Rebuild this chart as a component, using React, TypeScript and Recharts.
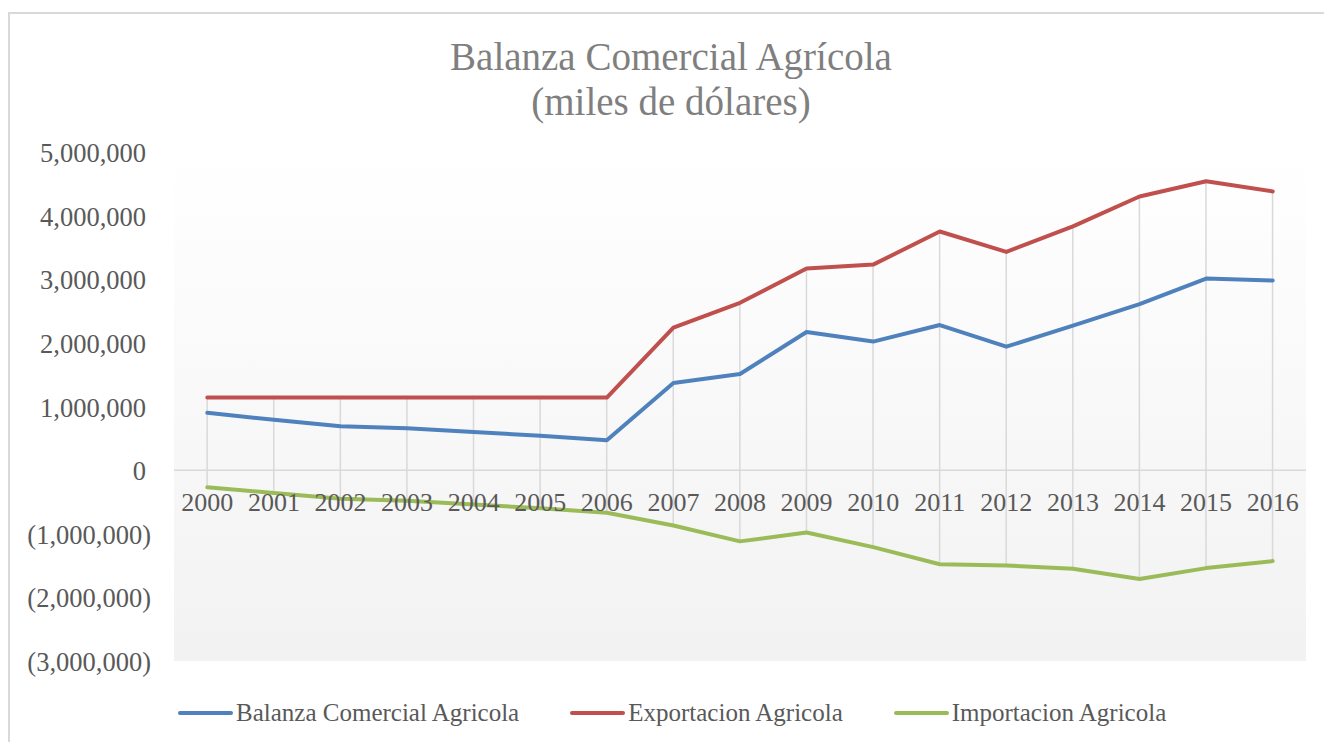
import React from "react";
import {
  ComposedChart,
  Line,
  Bar,
  XAxis,
  YAxis,
  CartesianGrid,
  ReferenceLine,
  LabelList,
} from "recharts";

const years = [
  "2000", "2001", "2002", "2003", "2004", "2005", "2006", "2007", "2008",
  "2009", "2010", "2011", "2012", "2013", "2014", "2015", "2016",
];
const balanza = [
  900000, 790000, 690000, 660000, 600000, 540000, 470000, 1370000, 1510000,
  2170000, 2020000, 2280000, 1940000, 2270000, 2610000, 3010000, 2980000,
];
const exportacion = [
  1140000, 1140000, 1140000, 1140000, 1140000, 1140000, 1140000, 2240000,
  2630000, 3170000, 3230000, 3750000, 3430000, 3830000, 4300000, 4540000,
  4380000,
];
const importacion = [
  -270000, -360000, -450000, -480000, -540000, -600000, -670000, -870000,
  -1120000, -980000, -1210000, -1480000, -1500000, -1550000, -1710000,
  -1540000, -1430000,
];
const yTicks = [
  -3000000, -2000000, -1000000, 0, 1000000, 2000000, 3000000, 4000000, 5000000,
];

const series = [
  { key: "balanza", name: "Balanza Comercial Agricola", color: "#4f81bd" },
  { key: "exportacion", name: "Exportacion Agricola", color: "#c0504d" },
  { key: "importacion", name: "Importacion Agricola", color: "#9bbb59" },
];

const data = years.map((year, i) => {
  const vals = [balanza[i], exportacion[i], importacion[i]];
  return {
    year,
    balanza: balanza[i],
    exportacion: exportacion[i],
    importacion: importacion[i],
    range: [Math.min(...vals), Math.max(...vals)],
    zero: 0,
  };
});

const FONT = "'Liberation Serif', serif";

const fmt = (v: number) =>
  v < 0
    ? `(${Math.abs(v).toLocaleString("en-US")})`
    : v.toLocaleString("en-US");

const YTick = (props: any) => {
  const { x, y, payload } = props;
  const neg = payload.value < 0;
  return (
    <text
      x={neg ? x + 5 : x}
      y={y + 10}
      textAnchor="end"
      fontFamily={FONT}
      fontSize={26.5}
      fill="#595959"
    >
      {fmt(payload.value)}
    </text>
  );
};

const YearLabel = (props: any) => {
  const { x, y, value } = props;
  if (x == null || y == null) return null;
  return (
    <text
      x={x}
      y={y + 41}
      textAnchor="middle"
      fontFamily={FONT}
      fontSize={26}
      fill="#595959"
    >
      {value}
    </text>
  );
};

// excel style high-low line: from the top series point to the bottom one
const HighLow = (props: any) => {
  const { x, y, width, height } = props;
  if (x == null || y == null) return null;
  const cx = x + width / 2;
  return (
    <line
      x1={cx}
      x2={cx}
      y1={y}
      y2={y + height}
      stroke="#d9d9d9"
      strokeWidth={1.5}
    />
  );
};

export default function App() {
  return (
    <div
      style={{
        position: "fixed",
        left: 0,
        top: 0,
        width: 1324,
        height: 742,
        overflow: "hidden",
        background: "#fff",
        fontFamily: FONT,
      }}
    >
      {/* chart frame, only top and left edges are inside the picture */}
      <div
        style={{
          position: "absolute",
          left: 8,
          top: 12,
          width: 1316,
          height: 2,
          background: "#d9d9d9",
        }}
      />
      <div
        style={{
          position: "absolute",
          left: 8,
          top: 12,
          width: 2,
          height: 730,
          background: "#d9d9d9",
        }}
      />

      <div
        style={{
          position: "absolute",
          left: 10,
          top: 34,
          width: 1322,
          textAlign: "center",
          fontSize: 39,
          lineHeight: "45px",
          color: "#7f7f7f",
        }}
      >
        Balanza Comercial Agrícola
        <br />
        (miles de dólares)
      </div>

      <div style={{ position: "absolute", left: 10, top: 14 }}>
        <ComposedChart
          width={1314}
          height={724}
          data={data}
          margin={{ top: 138, right: 18, bottom: 77, left: 0 }}
        >
          <defs>
            <linearGradient id="plotBg" x1="0" y1="0" x2="0" y2="1">
              <stop offset="0%" stopColor="#ffffff" />
              <stop offset="100%" stopColor="#f2f2f2" />
            </linearGradient>
          </defs>
          <CartesianGrid
            horizontal={false}
            vertical={false}
            fill="url(#plotBg)"
            stroke="none"
          />
          <XAxis dataKey="year" hide />
          <YAxis
            domain={[-3000000, 5000000]}
            ticks={yTicks}
            interval={0}
            axisLine={false}
            tickLine={false}
            tickSize={0}
            tickMargin={28}
            width={164}
            tick={<YTick />}
          />
          <Bar
            dataKey="range"
            shape={<HighLow />}
            isAnimationActive={false}
            legendType="none"
          />
          <ReferenceLine y={0} stroke="#d9d9d9" strokeWidth={1.5} />
          <Line
            dataKey="zero"
            stroke="none"
            dot={false}
            activeDot={false}
            isAnimationActive={false}
            legendType="none"
          >
            <LabelList dataKey="year" content={<YearLabel />} />
          </Line>
          {series.map((s) => (
            <Line
              key={s.key}
              dataKey={s.key}
              name={s.name}
              stroke={s.color}
              strokeWidth={4}
              strokeLinecap="round"
              strokeLinejoin="round"
              dot={false}
              activeDot={false}
              type="linear"
              isAnimationActive={false}
            />
          ))}
        </ComposedChart>
      </div>

      <div
        style={{
          position: "absolute",
          left: 178,
          top: 698,
          height: 30,
          display: "flex",
          alignItems: "center",
          gap: 51,
          fontSize: 25,
          color: "#595959",
          whiteSpace: "nowrap",
        }}
      >
        {series.map((s) => (
          <div key={s.key} style={{ display: "flex", alignItems: "center" }}>
            <span
              style={{
                display: "inline-block",
                width: 55,
                height: 4,
                borderRadius: 2,
                background: s.color,
                marginRight: 3,
              }}
            />
            <span>{s.name}</span>
          </div>
        ))}
      </div>
    </div>
  );
}
